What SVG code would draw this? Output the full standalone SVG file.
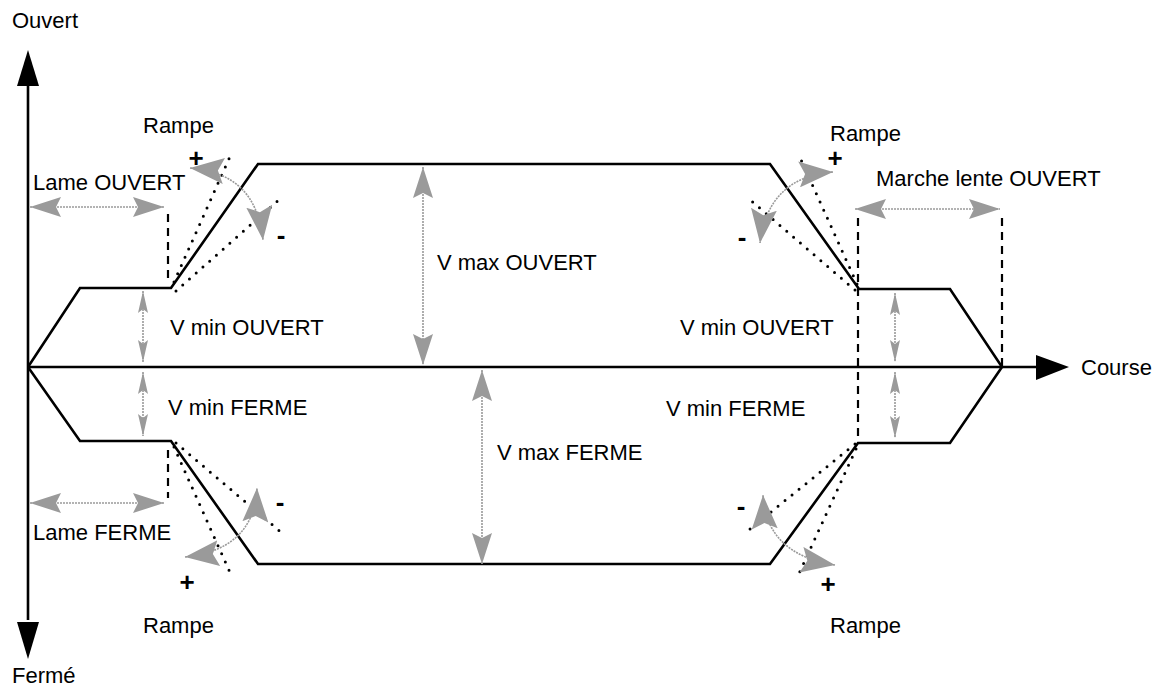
<svg xmlns="http://www.w3.org/2000/svg" width="1161" height="687" viewBox="0 0 1161 687">
<style>
text{font-family:"Liberation Sans",Arial,sans-serif;font-size:22px;fill:#000}
.pm{font-weight:bold;font-size:26px;text-anchor:middle}
.prof{fill:none;stroke:#000;stroke-width:2.6;stroke-linejoin:miter}
.axis{fill:none;stroke:#000;stroke-width:2.6}
.dash{fill:none;stroke:#000;stroke-width:2.2;stroke-dasharray:8 6}
.dot{fill:none;stroke:#000;stroke-width:3;stroke-dasharray:0 9;stroke-linecap:round}
.g{fill:none;stroke:#9a9a9a;stroke-width:1.6;stroke-dasharray:2 1}
.gb{marker-start:url(#ahB);marker-end:url(#ahB)}
.gs{marker-start:url(#ahS);marker-end:url(#ahS)}
</style>
<defs>
<marker id="ahB" viewBox="0 0 31 20" refX="31" refY="10" markerWidth="31" markerHeight="20" markerUnits="userSpaceOnUse" orient="auto-start-reverse"><path d="M0,0 L31,10 L0,20 L5,10 z" fill="#9a9a9a"/></marker>
<marker id="ahS" viewBox="0 0 22 10" refX="22" refY="5" markerWidth="22" markerHeight="10" markerUnits="userSpaceOnUse" orient="auto-start-reverse"><path d="M0,0 L22,5 L0,10 L4,5 z" fill="#9a9a9a"/></marker>
<marker id="ahR" viewBox="0 0 34 26" refX="34" refY="13" markerWidth="34" markerHeight="26" markerUnits="userSpaceOnUse" orient="auto-start-reverse"><path d="M0,0 L34,13 L0,26 L6,13 z" fill="#9a9a9a"/></marker>
</defs>

<g id="axes">
<line class="axis" x1="28" y1="620" x2="28" y2="84"/>
<path d="M28,50 L17,86 L39,86 z" fill="#000"/>
<path d="M28,659 L17,622 L39,622 z" fill="#000"/>
<line class="axis" x1="28" y1="367" x2="1040" y2="367"/>
<path d="M1069,367 L1036,355 L1036,380 z" fill="#000"/>
<text x="12" y="28">Ouvert</text>
<text x="12" y="683">Fermé</text>
<text x="1081" y="375">Course</text>
</g>

<g id="profiles">
<polyline class="prof" points="28,367 80,288 171,288 258,164 770,164 859,289 950,289 1002,367"/>
<polyline class="prof" points="28,367 80,441 171,441 258,564 770,564 858,443 950,443 1002,367"/>
</g>

<g id="dashed">
<line class="dash" x1="168" y1="214" x2="168" y2="282"/>
<line class="dash" x1="168" y1="450" x2="168" y2="498"/>
<line class="dash" x1="858" y1="218" x2="858" y2="442"/>
<line class="dash" x1="1002" y1="218" x2="1002" y2="367"/>
</g>

<g id="ramps">
<line class="dot" x1="174" y1="282" x2="232" y2="152"/>
<line class="dot" x1="176" y1="291" x2="282" y2="197"/>
<line class="dot" x1="174" y1="447" x2="232" y2="577"/>
<line class="dot" x1="176" y1="443" x2="282" y2="533"/>
<line class="dot" x1="857" y1="284" x2="798" y2="153"/>
<line class="dot" x1="855" y1="290" x2="748" y2="198"/>
<line class="dot" x1="856" y1="449" x2="797" y2="578"/>
<line class="dot" x1="855" y1="444" x2="745" y2="533"/>
<path class="g" d="M190,168 C235,172 258,195 263,240" marker-start="url(#ahR)" marker-end="url(#ahR)"/>
<path class="g" d="M833,172 C790,175 765,200 760,243" marker-start="url(#ahR)" marker-end="url(#ahR)"/>
<path class="g" d="M185,557 C230,552 255,530 257,488" marker-start="url(#ahR)" marker-end="url(#ahR)"/>
<path class="g" d="M835,565 C790,558 765,535 763,495" marker-start="url(#ahR)" marker-end="url(#ahR)"/>
<text class="pm" x="196" y="167">+</text>
<text class="pm" x="281" y="244">-</text>
<text class="pm" x="835" y="167">+</text>
<text class="pm" x="742" y="246">-</text>
<text class="pm" x="280" y="511">-</text>
<text class="pm" x="187" y="591">+</text>
<text class="pm" x="741" y="515">-</text>
<text class="pm" x="828" y="593">+</text>
<text x="143" y="133">Rampe</text>
<text x="830" y="141">Rampe</text>
<text x="143" y="633">Rampe</text>
<text x="830" y="633">Rampe</text>
</g>

<g id="dimensions">
<line class="g gb" x1="30" y1="207" x2="164" y2="207"/>
<line class="g gb" x1="30" y1="503" x2="164" y2="503"/>
<line class="g gb" x1="855" y1="209" x2="1000" y2="209"/>
<line class="g gs" x1="143" y1="291" x2="143" y2="362"/>
<line class="g gs" x1="143" y1="372" x2="143" y2="436"/>
<line class="g gs" x1="895" y1="293" x2="895" y2="362"/>
<line class="g gs" x1="895" y1="372" x2="895" y2="438"/>
<line class="g gb" x1="423" y1="167" x2="423" y2="365"/>
<line class="g gb" x1="482" y1="370" x2="482" y2="564"/>
<text x="33" y="190">Lame OUVERT</text>
<text x="33" y="540">Lame FERME</text>
<text x="876" y="186">Marche lente OUVERT</text>
<text x="170" y="335">V min OUVERT</text>
<text x="680" y="335">V min OUVERT</text>
<text x="437" y="270">V max OUVERT</text>
<text x="168" y="415">V min FERME</text>
<text x="666" y="416">V min FERME</text>
<text x="497" y="460">V max FERME</text>
</g>
</svg>
